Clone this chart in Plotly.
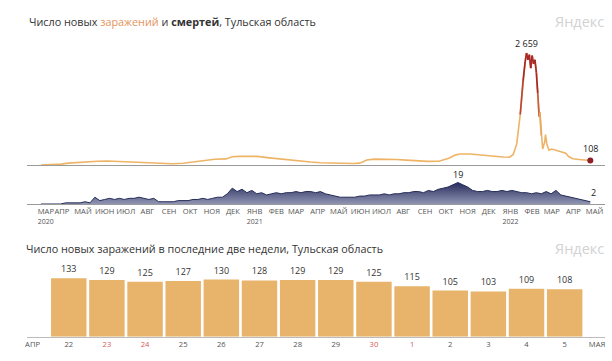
import plotly.graph_objects as go
import pandas as pd
import numpy as np

# ---------------- data ----------------
inf_dates = [
    "2020-03-12", "2020-03-25", "2020-04-10", "2020-04-20", "2020-05-01", "2020-05-15",
    "2020-06-01", "2020-06-15", "2020-07-01", "2020-07-15", "2020-08-01", "2020-08-15",
    "2020-09-01", "2020-09-15", "2020-10-01", "2020-10-15", "2020-11-01", "2020-11-15",
    "2020-12-01", "2020-12-10", "2020-12-20", "2021-01-01", "2021-01-15", "2021-02-01",
    "2021-02-15", "2021-03-01", "2021-03-15", "2021-04-01", "2021-04-15", "2021-05-01",
    "2021-05-15", "2021-06-01", "2021-06-10", "2021-06-20", "2021-07-01", "2021-07-15",
    "2021-08-01", "2021-08-15", "2021-09-01", "2021-09-15", "2021-10-01", "2021-10-15",
    "2021-10-25", "2021-11-01", "2021-11-15", "2021-12-01", "2021-12-15", "2022-01-01",
    "2022-01-10", "2022-01-15", "2022-01-20", "2022-01-25", "2022-01-29", "2022-02-01",
    "2022-02-03", "2022-02-05", "2022-02-07", "2022-02-09", "2022-02-11", "2022-02-13",
    "2022-02-15", "2022-02-17", "2022-02-19", "2022-02-21", "2022-02-22", "2022-02-24",
    "2022-02-26", "2022-03-01", "2022-03-02", "2022-03-04", "2022-03-07", "2022-03-11",
    "2022-03-18", "2022-03-25", "2022-03-31", "2022-04-04", "2022-04-10", "2022-04-19",
    "2022-04-26", "2022-05-05",
]
inf_values = [
    0, 5, 20, 45, 60, 80,
    90, 95, 85, 70, 55, 40,
    32, 30, 40, 70, 110, 135,
    145, 195, 205, 210, 205, 170,
    145, 110, 90, 70, 55, 45,
    40, 35, 45, 120, 140, 140,
    130, 115, 95, 85, 90, 160,
    240, 260, 260, 245, 215, 190,
    185, 250, 500, 1200, 2000, 2450,
    2659, 2500, 2620, 2300, 2600, 2400,
    2500, 2200, 1700, 1150, 1250, 700,
    380, 550, 720, 500, 350, 380,
    350, 320, 280, 200, 150, 130,
    125, 108,
]

death_start = "2020-03-12"   # weekly readings
death_values = [
    0, 0, 0,
    0, 0, 1, 1, 1,
    1, 2, 1, 6,
    3, 4, 5, 4,
    5, 4, 5, 5, 6,
    5, 4, 5, 2,
    2, 2, 2, 3,
    3, 3, 4, 4, 5,
    4, 5, 6, 6,
    9, 14, 11, 13, 10,
    12, 9, 10, 8,
    9, 10, 9, 10,
    10, 11, 10, 11,
    11, 10, 11, 9, 8,
    7, 6, 6, 6,
    6, 7, 7, 8,
    8, 8, 9, 8, 9,
    9, 10, 10, 11,
    11, 10, 12, 11, 13,
    14, 15, 17, 19,
    17, 15, 12, 11,
    11, 12, 11, 11, 12,
    11, 12, 11, 10,
    10, 9, 10, 9,
    11, 9, 12, 8, 7,
    6, 5, 4, 3,
    2,
]

month_names = ["ЯНВ", "ФЕВ", "МАР", "АПР", "МАЙ", "ИЮН",
               "ИЮЛ", "АВГ", "СЕН", "ОКТ", "НОЯ", "ДЕК"]

bar_days = ["22", "23", "24", "25", "26", "27", "28", "29", "30", "1", "2", "3", "4", "5"]
bar_values = [133, 129, 125, 127, 130, 128, 129, 129, 125, 115, 105, 103, 109, 108]
bar_weekend = [False, True, True, False, False, False, False, False, True, True,
               False, False, False, False]

# ---------------- styling helpers ----------------
FONT = "Open Sans"
ORANGE = (238, 180, 102)
RED = (168, 40, 42)


def py(px):
    return 1 - px / 361.0


def mix(t):
    r = [int(round(a + (b - a) * t)) for a, b in zip(ORANGE, RED)]
    return f"rgb({r[0]},{r[1]},{r[2]})"


inf_x = pd.to_datetime(inf_dates)
death_x = pd.date_range(death_start, periods=len(death_values), freq="7D")

fig = go.Figure()

# infections line (orange base)
fig.add_trace(go.Scatter(
    x=inf_x, y=inf_values, mode="lines", xaxis="x2", yaxis="y",
    line=dict(color=mix(0), width=1.6), hoverinfo="skip", showlegend=False))

# red-ish overlay segments on the peak
for i in range(len(inf_values) - 1):
    m = (inf_values[i] + inf_values[i + 1]) / 2
    if m > 900:
        t = float(np.clip((m - 900) / 900.0, 0, 1))
        fig.add_trace(go.Scatter(
            x=inf_x[i:i + 2], y=inf_values[i:i + 2], mode="lines", xaxis="x2", yaxis="y",
            line=dict(color=mix(t), width=1.7), hoverinfo="skip", showlegend=False))

# end dot
fig.add_trace(go.Scatter(
    x=[inf_x[-1]], y=[inf_values[-1]], mode="markers", xaxis="x2", yaxis="y",
    marker=dict(color="#8e1f27", size=6), hoverinfo="skip", showlegend=False))

# deaths area
fig.add_trace(go.Scatter(
    x=death_x, y=death_values, mode="lines", xaxis="x", yaxis="y2",
    line=dict(color="#262c58", width=1), fill="tozeroy",
    fillgradient=dict(type="vertical",
                      colorscale=[[0, "#8f94b3"], [1, "#262c5a"]]),
    hoverinfo="skip", showlegend=False))

# bars
fig.add_trace(go.Bar(
    x=list(range(len(bar_values))), y=bar_values, xaxis="x3", yaxis="y3",
    marker=dict(color="#e8b46b", line=dict(width=0)), width=0.93,
    text=[str(v) for v in bar_values], textposition="outside",
    textfont=dict(size=9, color="#333", family=FONT), cliponaxis=False,
    hoverinfo="skip", showlegend=False))

# ---------------- axes ----------------
xr = ["2020-02-21", "2022-05-26"]
tickvals, ticktext = [], []
for d in pd.date_range("2020-03-01", "2022-05-01", freq="MS"):
    name = month_names[d.month - 1]
    if d.year == 2020 and d.month == 3:
        tv = pd.Timestamp("2020-03-19")
        name = name + "<br><span style='font-size:7px'>2020</span>"
    else:
        tv = d + pd.Timedelta(days=10)
        if d.month == 1:
            name = name + f"<br><span style='font-size:7px'>{d.year}</span>"
    tickvals.append(tv)
    ticktext.append(name)

bar_tickvals = [-0.95] + list(range(len(bar_days))) + [13.85]
bar_ticktext = ["АПР"] + [
    (f"<span style='color:#d65a55'>{d}</span>" if w else d)
    for d, w in zip(bar_days, bar_weekend)] + ["МАЯ"]

xdom = [25 / 612, 605 / 612]

fig.update_layout(
    width=612, height=361, margin=dict(l=0, r=0, t=0, b=0),
    paper_bgcolor="white", plot_bgcolor="white",
    font=dict(family=FONT, color="#333"),
    xaxis=dict(domain=xdom, anchor="y2", type="date", range=xr,
               showgrid=False, zeroline=False, showline=True, linecolor="#9a9a9a",
               linewidth=1, ticks="", tickvals=tickvals, ticktext=ticktext, tickangle=0,
               tickfont=dict(size=7.6, color="#555", family=FONT), ticklabelstandoff=0),
    xaxis2=dict(domain=xdom, anchor="y", matches="x", type="date", range=xr,
                showgrid=False, zeroline=False, showline=True, linecolor="#9a9a9a",
                linewidth=1, showticklabels=False, ticks=""),
    yaxis=dict(domain=[py(165), py(47.1)], range=[0, 2800], visible=False),
    yaxis2=dict(domain=[py(204), py(179.1)], range=[0, 22], visible=False),
    xaxis3=dict(domain=xdom, anchor="y3", range=[-1.097, 14.058],
                showgrid=False, zeroline=False, showline=True, linecolor="#bbbbbb",
                linewidth=1, ticks="", tickvals=bar_tickvals, ticktext=bar_ticktext,
                tickangle=0, tickfont=dict(size=7.6, color="#555", family=FONT)),
    yaxis3=dict(domain=[py(336.7), py(270.8)], range=[0, 150], visible=False),
    bargap=0.07,
)

peak_i = int(np.argmax(inf_values))
dpeak_i = int(np.argmax(death_values))
fmt = lambda v: f"{v:,}".replace(",", " ")

annots = [
    dict(xref="paper", yref="paper", x=25 / 612, y=py(22), xanchor="left", yanchor="middle",
         text="Число новых <span style='color:#e4935a'>заражений</span> и <b>смертей</b>, Тульская область",
         showarrow=False, font=dict(size=10.8, color="#333", family=FONT)),
    dict(xref="paper", yref="paper", x=606 / 612, y=py(22), xanchor="right", yanchor="middle",
         text="Яндекс", showarrow=False, font=dict(size=14.5, color="#d2d2d2", family=FONT)),
    dict(xref="paper", yref="paper", x=22 / 612, y=py(248), xanchor="left", yanchor="middle",
         text="Число новых заражений в последние две недели, Тульская область",
         showarrow=False, font=dict(size=10.8, color="#333", family=FONT)),
    dict(xref="paper", yref="paper", x=606 / 612, y=py(248), xanchor="right", yanchor="middle",
         text="Яндекс", showarrow=False, font=dict(size=14.5, color="#d2d2d2", family=FONT)),
    dict(xref="x2", yref="y", x=inf_x[peak_i], y=inf_values[peak_i], xanchor="center",
         yanchor="bottom", yshift=1, text=fmt(inf_values[peak_i]), showarrow=False,
         font=dict(size=9, color="#222", family=FONT)),
    dict(xref="x2", yref="y", x=inf_x[-1], y=inf_values[-1], xanchor="center",
         yanchor="bottom", yshift=3, text=fmt(inf_values[-1]), showarrow=False,
         font=dict(size=9, color="#222", family=FONT)),
    dict(xref="x", yref="y2", x=death_x[dpeak_i], y=death_values[dpeak_i], xanchor="center",
         yanchor="bottom", yshift=0, text=str(death_values[dpeak_i]), showarrow=False,
         font=dict(size=9, color="#222", family=FONT)),
    dict(xref="x", yref="y2", x=death_x[-1], y=death_values[-1], xanchor="center",
         xshift=3, yanchor="bottom", yshift=1, text=str(death_values[-1]), showarrow=False,
         font=dict(size=9, color="#222", family=FONT)),
]
fig.update_layout(annotations=annots)

fig.write_html("out.html", config={"displayModeBar": False},
               post_script="document.body.style.margin='0';document.body.style.padding='0';")
